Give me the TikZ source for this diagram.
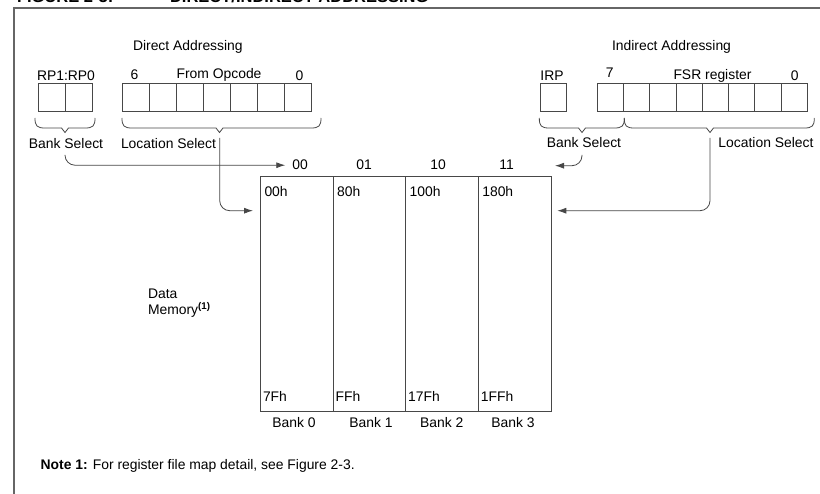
\documentclass[tikz,border=0pt]{standalone}
\usepackage{fontspec}
\setmainfont{Liberation Sans}
\usetikzlibrary{arrows.meta,calc}
\newcommand\pbrace[3]{% x0, tip, x1
  \draw[lnk] (#1,118) .. controls (#1,126) and (#1+2,128) .. (#1+10,128)
     -- (#2-3.5,128) -- (#2,132.5) -- (#2+3.5,128) -- (#3-10,128)
     .. controls (#3-2,128) and (#3,126) .. (#3,118);}
\tikzset{
  txt/.style={font=\fontsize{13.9}{16}\selectfont, inner sep=0pt, outer sep=0pt, text=black},
  lnk/.style={draw=black!72, line width=0.8pt},
  cell/.style={draw=black!72, line width=0.8pt, rectangle, inner sep=0pt, outer sep=0pt,
     minimum height=28pt, anchor=north west},
  bank/.style={draw=black!72, line width=0.8pt, rectangle, inner sep=0pt, outer sep=0pt,
     minimum width=72.6pt, minimum height=235pt, anchor=north west},
  conn/.style={lnk, rounded corners=10pt, -{Latex[length=9pt,width=6pt]}},
  frame/.style={draw=black!60, line width=1.3pt},
}
\begin{document}
\begin{tikzpicture}[x=1pt,y=-1pt]
\useasboundingbox (0,0) rectangle (820,494);
\clip (0,0) rectangle (820,494);
\fill[white] (0,0) rectangle (820,494);
% title (cropped) and frame
\node[txt, anchor=base west, font=\fontsize{16.5}{18}\selectfont\bfseries] (ttl1) at (17,3) {FIGURE 2-3:};
\node[txt, anchor=base west, font=\fontsize{16.5}{18}\selectfont\bfseries] (ttl2) at (170,3) {DIRECT/INDIRECT ADDRESSING};
\draw[frame] (14,8) rectangle (850,530);

% ---------- direct addressing ----------
\node[txt, anchor=base west] (dirA) at (133,51) {Direct Addressing};
\node[txt, anchor=base] (rplab) at (66,81) {RP1:RP0};
\node[txt, anchor=base] (six) at (134.5,80) {6};
\node[txt, anchor=base] (fromop) at (219,78.3) {From Opcode};
\node[txt, anchor=base] (zeroA) at (299.5,80.5) {0};
\foreach \i in {0,1} \node[cell, minimum width=27pt] (rp\i) at (38+27*\i,83) {};
\foreach \i in {0,...,6} \node[cell, minimum width=27pt] (op\i) at (122.7+27*\i,83) {};
\pbrace{35}{65}{95}
\pbrace{122}{219.5}{321}
\node[txt, anchor=base] (bsA) at (66,149) {Bank Select};
\node[txt, anchor=base west] (lsA) at (121,149) {Location Select};

% ---------- indirect addressing ----------
\node[txt, anchor=base west] (indA) at (612,51) {Indirect Addressing};
\node[txt, anchor=base] (irplab) at (552,81) {IRP};
\node[txt, anchor=base] (seven) at (609.7,78) {7};
\node[txt, anchor=base] (fsrlab) at (712.5,80) {FSR register};
\node[txt, anchor=base] (zeroB) at (794.7,80.5) {0};
\node[cell, minimum width=26.7pt] (irp) at (540,83) {};
\foreach \i in {0,...,7} \node[cell, minimum width=26.25pt] (fsr\i) at (597.3+26.25*\i,83) {};
\pbrace{539.3}{582}{624.3}
\pbrace{624.3}{710}{814.3}
\node[txt, anchor=base] (bsB) at (584,147.5) {Bank Select};
\node[txt, anchor=base] (lsB) at (766,148) {Location Select};

% ---------- data memory ----------
\foreach \i in {0,...,3} \node[bank] (b\i) at (260.5+72.6*\i,176) {};
\foreach \i/\t/\c in {0/00/300,1/01/364,2/10/438,3/11/506.7}
  \node[txt, anchor=base] (l\t) at (\c,170) {\t};
\foreach \i/\t in {0/00h,1/80h,2/100h,3/180h}
  \node[txt, anchor=base west] (top\i) at ($(b\i.north west)+(4,20.7)$) {\t};
\foreach \i/\t in {0/7Fh,1/FFh,2/17Fh,3/1FFh}
  \node[txt, anchor=base west] (bot\i) at ($(b\i.south west)+(2.5,-9)$) {\t};
\foreach \i/\c in {0/294,1/371,2/441.7,3/513}
  \node[txt, anchor=base] (bk\i) at (\c,428) {Bank \i};
\node[txt, anchor=base west] (data) at (148,299) {Data};
\node[txt, anchor=base west] (mem) at (148,315) {Memory\textsuperscript{\bfseries(1)}};
\node[txt, anchor=base west] (note) at (40.7,470) {\textbf{Note 1:}\hspace{5pt}For register file map detail, see Figure 2-3.};

% ---------- connectors ----------
\coordinate (bsLs) at (65,155);
\coordinate (lsLs) at (219.7,138);
\coordinate (inL) at (253,210.7);
\coordinate (bsRs) at (582,155);
\coordinate (bankR) at (555,165.7);
\coordinate (lsRs) at (710,138);
\coordinate (inR) at (557.3,210.7);
\draw[conn, shorten >=7pt] (bsLs) |- (l00.west);
\draw[conn] (lsLs) |- (inL);
\draw[conn] (bsRs) |- (bankR);
\draw[conn] (lsRs) |- (inR);
\end{tikzpicture}
\end{document}
